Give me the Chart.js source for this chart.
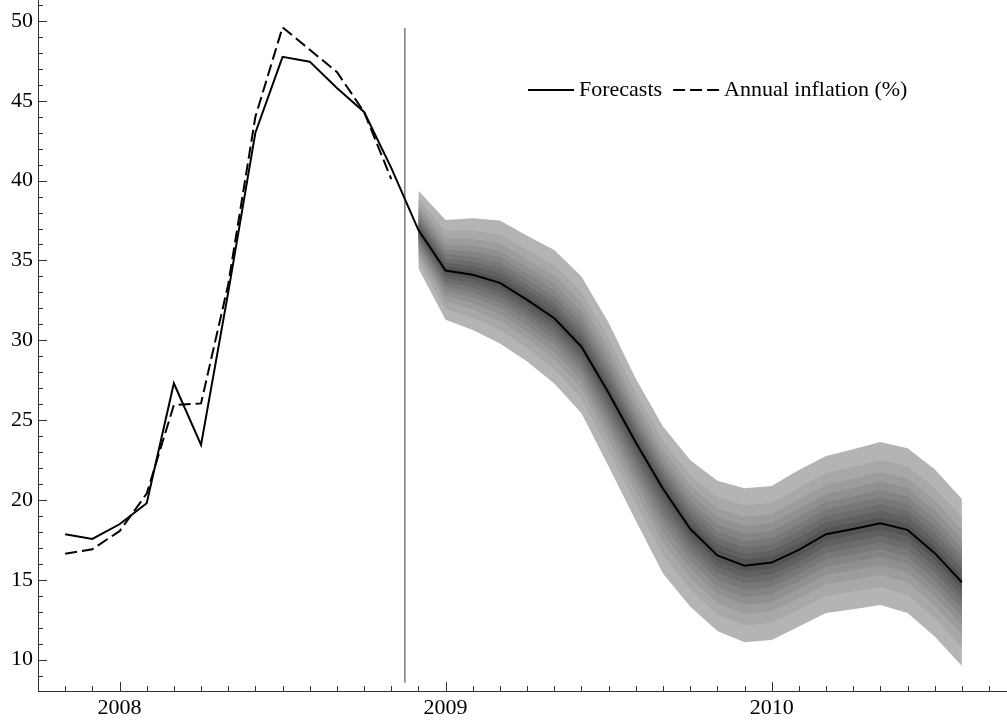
<!DOCTYPE html>
<html>
<head>
<meta charset="utf-8">
<title>Inflation forecasts</title>
<script src="https://cdn.jsdelivr.net/npm/chart.js@4.4.1/dist/chart.umd.min.js"></script>
<style>
  html, body { margin: 0; padding: 0; background: #fff; }
  #wrap { width: 1007px; height: 720px; position: relative; }
</style>
</head>
<body>
<div id="wrap"><canvas id="fanChart"></canvas></div>
<script>
// months shown (fitted values + forecasts)
const months = [
  '2007-11', '2007-12',
  '2008-01', '2008-02', '2008-03', '2008-04', '2008-05', '2008-06',
  '2008-07', '2008-08', '2008-09', '2008-10', '2008-11', '2008-12',
  '2009-01', '2009-02', '2009-03', '2009-04', '2009-05', '2009-06',
  '2009-07', '2009-08', '2009-09', '2009-10', '2009-11', '2009-12',
  '2010-01', '2010-02', '2010-03', '2010-04', '2010-05', '2010-06',
  '2010-07', '2010-08'
];

// solid line: model values, in-sample then out of sample
const forecasts = [
  17.86, 17.56,
  18.48, 19.8, 27.31, 23.45, 33.0, 43.0,
  47.75, 47.45, 45.8, 44.3, 40.8, 36.9,
  34.37, 34.1, 33.6, 32.53, 31.38, 29.6,
  26.7, 23.6, 20.7, 18.2, 16.53, 15.89,
  16.08, 16.88, 17.86, 18.19, 18.54, 18.13,
  16.67, 14.85
];

// dashed line: observed annual inflation (%), Nov 2007 - Nov 2008
const inflation = [
  16.63, 16.92,
  18.05, 20.4, 25.95, 26.05, 33.5, 44.0,
  49.6, 48.2, 46.8, 44.3, 40.1
];

// fan chart, Dec 2008 - Aug 2010: outer band edges
const fanStart = '2008-12';
const fanUpper = [
  39.36,
  37.54, 37.65, 37.5, 36.54, 35.66, 33.99,
  31.1, 27.6, 24.6, 22.5, 21.2, 20.74,
  20.88, 21.88, 22.76, 23.18, 23.64, 23.24,
  21.93, 20.07
];
const fanLower = [
  34.5,
  31.28, 30.65, 29.8, 28.67, 27.3, 25.43,
  22.1, 18.7, 15.4, 13.33, 11.8, 11.1,
  11.24, 12.08, 12.92, 13.16, 13.43, 12.92,
  11.46, 9.61
];
// share of the outer band for each nested band (90%, 80%, ... 10%)
const bandLevels = [1, 0.779, 0.630, 0.512, 0.410, 0.319, 0.234, 0.154, 0.076];
const bandGreys = ['#b4b4b4', '#a8a8a8', '#9c9c9c', '#909090', '#848484', '#787878', '#6c6c6c', '#606060', '#545454'];

// vertical split line (middle of Nov 2008)
const splitMonth = '2008-11';
const splitSpan = [8.55, 49.55];

const yearTicks = [2008, 2009, 2010];
const yTicks = [10, 15, 20, 25, 30, 35, 40, 45, 50];

function monthIndex(s) {
  const parts = s.split('-');
  return (parseInt(parts[0]) - 2008) * 12 + parseInt(parts[1]) - 1;
}

const serif = "'Liberation Serif', 'Times New Roman', serif";

const fanOffset = months.indexOf(fanStart);
const fanMonths = months.slice(fanOffset);
const fanCenter = forecasts.slice(fanOffset);

const datasets = [];

datasets.push({
  label: 'Forecasts',
  data: months.map((m, i) => ({ x: monthIndex(m), y: forecasts[i] })),
  borderColor: '#000',
  borderWidth: 2,
  pointRadius: 0,
  fill: false,
  order: 0
});
datasets.push({
  label: 'Annual inflation (%)',
  data: inflation.map((v, i) => ({ x: monthIndex(months[i]), y: v })),
  borderColor: '#000',
  borderWidth: 2,
  borderDash: [12, 5],
  pointRadius: 0,
  fill: false,
  order: 0
});
datasets.push({
  label: 'split',
  data: splitSpan.map(v => ({ x: monthIndex(splitMonth) + 0.5, y: v })),
  borderColor: '#7a7a7a',
  borderWidth: 1.5,
  pointRadius: 0,
  fill: false,
  order: 1
});

// nested bands: outer drawn first, inner on top
bandLevels.forEach((k, i) => {
  datasets.push({
    label: 'band' + i,
    data: fanMonths.map((m, j) => ({ x: monthIndex(m), y: fanCenter[j] + (fanUpper[j] - fanCenter[j]) * k })),
    borderColor: 'rgba(0,0,0,0)',
    borderWidth: 0,
    backgroundColor: bandGreys[i],
    pointRadius: 0,
    fill: '+1',
    order: 100 - i
  });
  datasets.push({
    label: 'band' + i + 'low',
    data: fanMonths.map((m, j) => ({ x: monthIndex(m), y: fanCenter[j] - (fanCenter[j] - fanLower[j]) * k })),
    borderColor: 'rgba(0,0,0,0)',
    borderWidth: 0,
    pointRadius: 0,
    fill: false,
    order: 100 - i
  });
});

// small inward tick marks, monthly on x and unit steps on y
const tickMarks = {
  id: 'tickMarks',
  afterDraw(chart) {
    const { ctx, chartArea } = chart;
    const x = chart.scales.x, y = chart.scales.y;
    ctx.save();
    ctx.strokeStyle = '#333';
    ctx.lineWidth = 1;
    ctx.beginPath();
    for (let m = Math.ceil(x.min); m <= x.max; m++) {
      const px = Math.round(x.getPixelForValue(m)) + 0.5;
      const len = m % 12 === 0 ? 9 : 5;
      ctx.moveTo(px, chartArea.bottom);
      ctx.lineTo(px, chartArea.bottom - len);
    }
    for (let v = Math.ceil(y.min); v <= y.max; v++) {
      const py = Math.round(y.getPixelForValue(v)) + 0.5;
      const len = v % 5 === 0 ? 9 : 5;
      ctx.moveTo(chartArea.left, py);
      ctx.lineTo(chartArea.left + len, py);
    }
    ctx.stroke();
    ctx.restore();
  }
};

// legend inside the plot, top right
const innerLegend = {
  id: 'innerLegend',
  afterDraw(chart) {
    const ctx = chart.ctx;
    const items = chart.data.datasets.slice(0, 2);
    let x = 528;
    const y = 90;
    ctx.save();
    ctx.font = '22px ' + serif;
    ctx.fillStyle = '#000';
    ctx.textBaseline = 'middle';
    items.forEach(ds => {
      ctx.beginPath();
      ctx.strokeStyle = '#000';
      ctx.lineWidth = 2;
      ctx.setLineDash(ds.borderDash || []);
      ctx.moveTo(x, y);
      ctx.lineTo(x + 46, y);
      ctx.stroke();
      ctx.setLineDash([]);
      x += 51;
      ctx.fillText(ds.label, x, y);
      x += ctx.measureText(ds.label).width + 11;
    });
    ctx.restore();
  }
};

new Chart(document.getElementById('fanChart'), {
  type: 'line',
  data: { datasets: datasets },
  options: {
    responsive: true,
    maintainAspectRatio: false,
    animation: false,
    devicePixelRatio: 1,
    layout: { padding: 0 },
    elements: { line: { tension: 0 } },
    plugins: {
      legend: { display: false },
      tooltip: { enabled: false }
    },
    scales: {
      x: {
        type: 'linear',
        min: -3,
        max: 32.66,
        grid: { display: false, drawTicks: false },
        border: { display: true, color: '#333', width: 1 },
        afterBuildTicks: axis => { axis.ticks = yearTicks.map(yr => ({ value: (yr - 2008) * 12 })); },
        afterFit: axis => { axis.height = 29; axis.paddingLeft = 0; axis.paddingRight = 0; },
        ticks: {
          autoSkip: false,
          maxRotation: 0,
          padding: 4,
          color: '#000',
          font: { family: serif, size: 22 },
          callback: v => String(2008 + v / 12)
        }
      },
      y: {
        type: 'linear',
        min: 8.04,
        max: 51.31,
        grid: { display: false, drawTicks: false },
        border: { display: true, color: '#333', width: 1 },
        afterBuildTicks: axis => { axis.ticks = yTicks.map(v => ({ value: v })); },
        afterFit: axis => { axis.width = 38; axis.paddingTop = 0; axis.paddingBottom = 0; },
        ticks: {
          padding: 5,
          color: '#000',
          font: { family: serif, size: 22 },
          callback: v => String(v)
        }
      }
    }
  },
  plugins: [tickMarks, innerLegend]
});
</script>
</body>
</html>
